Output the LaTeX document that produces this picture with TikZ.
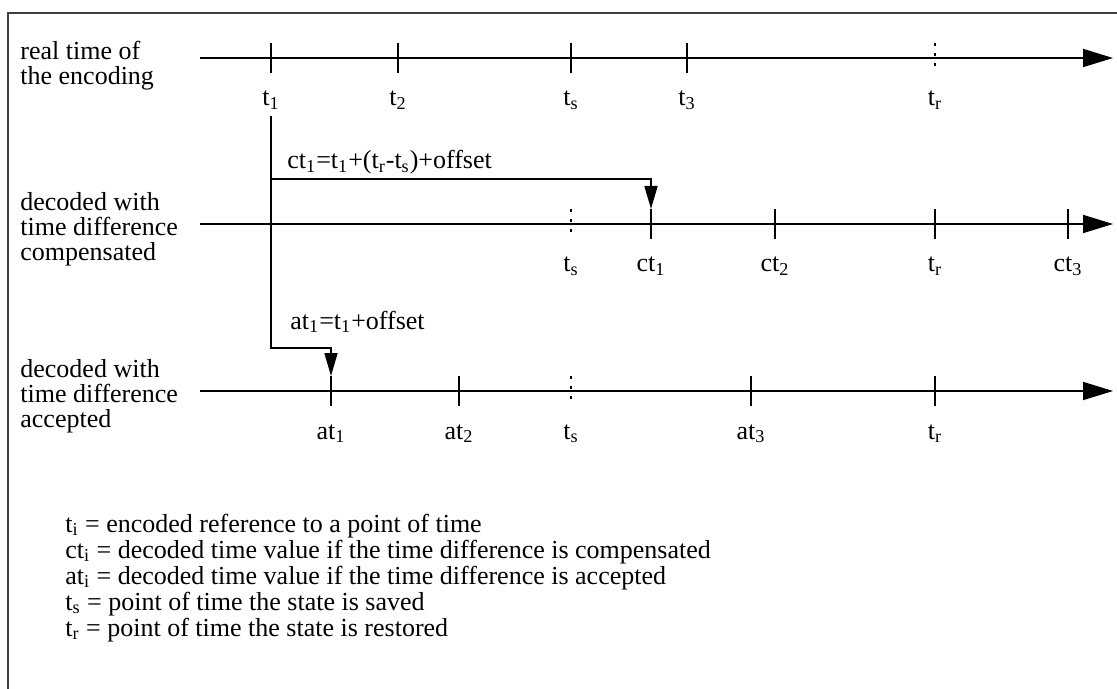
\documentclass[tikz,border=0pt]{standalone}
\usepackage{fontspec}
\setmainfont{Liberation Serif}
\usetikzlibrary{arrows.meta}

\begin{document}
\begin{tikzpicture}[x=0.5pt, y=-0.5pt,
  axis/.style={line width=0.9pt, -{Triangle[length=15pt,width=9pt]}},
  tick/.style={line width=0.8pt},
  dtick/.style={line width=0.8pt, dash pattern=on 1.5pt off 3.5pt},
  conn/.style={line width=0.8pt, -{Triangle[length=11.5pt,width=6.5pt]}},
  lab/.style={inner sep=0pt, anchor=base},
  rowlab/.style={inner sep=0pt, anchor=north west, align=left},
  font=\fontsize{13}{12.5}\selectfont]
  \useasboundingbox (0,0) rectangle (1117,689);

  % --- frame ---
  \draw[line width=0.8pt, black!75] (1117,13) -- (8,13) -- (8,689);

  % --- real time of the encoding ---
  \node[rowlab] (row1) at (20,41) {real time of\\the encoding};
  \coordinate (ax1s) at (200,58);
  \coordinate (ax1e) at (1113,58);
  \draw[axis] (ax1s) -- (ax1e);
  \foreach \x/\n/\t in {271/lt1/{t\textsubscript{1}}, 398/lt2/{t\textsubscript{2}},
                        571/lts/{t\textsubscript{s}}, 687/lt3/{t\textsubscript{3}}} {
    \draw[tick] (\x,43) -- (\x,73);
    \node[lab] (\n) at (\x,106) {\t};
  }
  \draw[dtick] (935,43) -- (935,73);
  \node[lab] (ltr) at (935,106) {t\textsubscript{r}};

  % --- decoded, time difference compensated ---
  \node[rowlab] (row2) at (20,192) {decoded with\\time difference\\compensated};
  \coordinate (ax2s) at (200,224);
  \coordinate (ax2e) at (1113,224);
  \draw[axis] (ax2s) -- (ax2e);
  \draw[dtick] (571,209) -- (571,239);
  \node[lab] (cts) at (571,272) {t\textsubscript{s}};
  \foreach \x/\n/\t in {651/ct1/{ct\textsubscript{1}}, 775/ct2/{ct\textsubscript{2}},
                        935/ctr/{t\textsubscript{r}}, 1068/ct3/{ct\textsubscript{3}}} {
    \draw[tick] (\x,209) -- (\x,239);
    \node[lab] (\n) at (\x,272) {\t};
  }

  % --- decoded, time difference accepted ---
  \node[rowlab] (row3) at (20,359) {decoded with\\time difference\\accepted};
  \coordinate (ax3s) at (200,391);
  \coordinate (ax3e) at (1113,391);
  \draw[axis] (ax3s) -- (ax3e);
  \draw[dtick] (571,376) -- (571,406);
  \node[lab] (ats) at (571,439) {t\textsubscript{s}};
  \foreach \x/\n/\t in {331/at1/{at\textsubscript{1}}, 459/at2/{at\textsubscript{2}},
                        751/at3/{at\textsubscript{3}}, 935/atr/{t\textsubscript{r}}} {
    \draw[tick] (\x,376) -- (\x,406);
    \node[lab] (\n) at (\x,439) {\t};
  }

  % --- mapping of t1 ---
  \coordinate (split) at (271,179);
  \coordinate (bend) at (271,348);
  \coordinate (cttop) at (651,209);
  \coordinate (attop) at (331,376);
  \draw[conn, shorten <=3pt] (lt1.south) -- (bend) -| (attop);
  \draw[conn] (split) -| (cttop);
  \node[lab, anchor=base west] (ctform) at (287,169)
    {ct\textsubscript{1}=t\textsubscript{1}+(t\textsubscript{r}-t\textsubscript{s})+offset};
  \node[lab, anchor=base west] (atform) at (290,329)
    {at\textsubscript{1}=t\textsubscript{1}+offset};

  % --- legend ---
  \node[lab, anchor=base west] (leg1) at (65,532) {t\textsubscript{i} = encoded reference to a point of time};
  \node[lab, anchor=base west] (leg2) at (65,558) {ct\textsubscript{i} = decoded time value if the time difference is compensated};
  \node[lab, anchor=base west] (leg3) at (65,584) {at\textsubscript{i} = decoded time value if the time difference is accepted};
  \node[lab, anchor=base west] (leg4) at (65,610) {t\textsubscript{s} = point of time the state is saved};
  \node[lab, anchor=base west] (leg5) at (65,636) {t\textsubscript{r} = point of time the state is restored};
\end{tikzpicture}
\end{document}
